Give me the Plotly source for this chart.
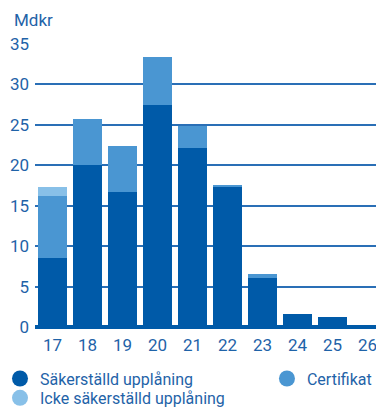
import plotly.graph_objects as go

years = [17, 18, 19, 20, 21, 22, 23, 24, 25, 26]
year_labels = ["17", "18", "19", "20", "21", "22", "23", "24", "25", "26"]
sakerstalld = [8.5, 20.0, 16.7, 27.4, 22.2, 17.4, 6.05, 1.6, 1.2, 0.2]
certifikat = [7.7, 5.7, 5.7, 6.0, 2.7, 0.15, 0.5, 0.0, 0.0, 0.0]
icke = [1.1, 0.0, 0.0, 0.0, 0.0, 0.0, 0.0, 0.0, 0.0, 0.0]
y_ticks = [0, 5, 10, 15, 20, 25, 30, 35]

c_dark = "#005aa8"
c_mid = "#4a96d2"
c_light = "#88c0e8"
c_text = "#1f63a8"

fig = go.Figure()
for name, vals, col in [("Säkerställd upplåning", sakerstalld, c_dark),
                        ("Certifikat", certifikat, c_mid),
                        ("Icke säkerställd upplåning", icke, c_light)]:
    fig.add_trace(go.Bar(x=years, y=vals, marker=dict(color=col, line=dict(width=0)),
                         width=0.83, showlegend=False, name=name))

for name, col, lg in [("Säkerställd upplåning", c_dark, "legend"),
                      ("Certifikat", c_mid, "legend2"),
                      ("Icke säkerställd upplåning", c_light, "legend3")]:
    fig.add_trace(go.Scatter(x=[None], y=[None], mode="markers", name=name, legend=lg,
                             marker=dict(symbol="circle", size=16, color=col)))

leg_common = dict(orientation="v", xref="container", yref="container",
                  xanchor="left", yanchor="top", traceorder="normal",
                  font=dict(size=16, color=c_text), bgcolor="rgba(0,0,0,0)",
                  itemsizing="trace", tracegroupgap=0)

fig.update_layout(
    width=376, height=410,
    margin=dict(l=35, r=0, t=44, b=83, autoexpand=False),
    barmode="stack",
    bargap=0.17,
    plot_bgcolor="white", paper_bgcolor="white",
    font=dict(family="Roboto", color=c_text, size=16),
    xaxis=dict(range=[16.5, 26.24], tickmode="array", tickvals=years, ticktext=year_labels,
               showgrid=False, zeroline=False, showline=False, ticks="",
               tickfont=dict(size=17, color=c_text), ticklabelstandoff=6,
               ticklabeloverflow="allow"),
    yaxis=dict(range=[0, 35], tickmode="array", tickvals=y_ticks,
               showgrid=True, gridcolor="#2a6fb6", gridwidth=1.5,
               zeroline=True, zerolinecolor=c_dark, zerolinewidth=4,
               showline=False, ticks="", tickfont=dict(size=17, color=c_text),
               ticklabelstandoff=5),
    legend=dict(x=0.0, y=0.118, **leg_common),
    legend2=dict(x=0.71, y=0.118, **leg_common),
    legend3=dict(x=0.0, y=0.071, **leg_common),
    annotations=[dict(text="Mdkr", xref="paper", yref="paper", x=-0.068, y=1.085,
                      xanchor="left", yanchor="middle", showarrow=False,
                      font=dict(size=17, color=c_text))],
)

fig.write_html("out.html")
